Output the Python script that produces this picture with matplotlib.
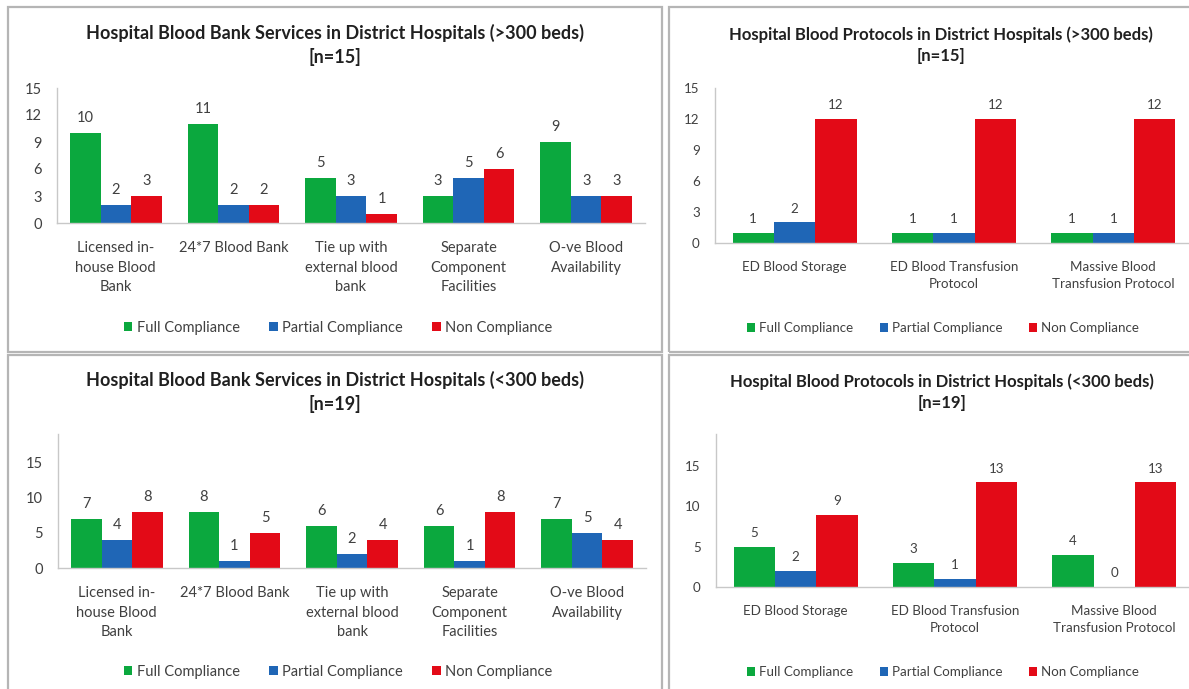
import matplotlib
matplotlib.use("Agg")
import matplotlib.pyplot as plt
from matplotlib.patches import Rectangle

plt.rcParams['font.family'] = ['Lato', 'DejaVu Sans']

# =============================================================================
    # Data
# =============================================================================
services = ["Licensed in-\nhouse Blood\nBank", "24*7 Blood Bank", "Tie up with\nexternal blood\nbank",
            "Separate\nComponent\nFacilities", "O-ve Blood\nAvailability"]
protocols = ["ED Blood Storage", "ED Blood Transfusion\nProtocol", "Massive Blood\nTransfusion Protocol"]

big_services_full = [10, 11, 5, 3, 9]
big_services_partial = [2, 2, 3, 5, 3]
big_services_non = [3, 2, 1, 6, 3]

big_protocols_full = [1, 1, 1]
big_protocols_partial = [2, 1, 1]
big_protocols_non = [12, 12, 12]

small_services_full = [7, 8, 6, 6, 7]
small_services_partial = [4, 1, 2, 1, 5]
small_services_non = [8, 5, 4, 8, 4]

small_protocols_full = [5, 3, 4]
small_protocols_partial = [2, 1, 0]
small_protocols_non = [9, 13, 13]

series_names = ["Full Compliance", "Partial Compliance", "Non Compliance"]
colors = ["#0BA83E", "#1F66B6", "#E30A17"]

W, H = 1189, 689
fig = plt.figure(figsize=(W / 100, H / 100), dpi=100)


def fx(px):
    return px / W


def fy(py):
    return 1 - py / H


# panel borders
for x0, y0, x1, y1 in [(8, 7, 662, 352), (669, 7, 1200, 352), (8, 355, 662, 700), (669, 355, 1200, 700)]:
    fig.add_artist(Rectangle((fx(x0), fy(y1)), fx(x1 - x0), (y1 - y0) / H, transform=fig.transFigure,
                             fill=False, ec="#b5b5b5", lw=1.6))


def panel(box, cats, full, partial, non, ymax, yticks, title, title_pos, legend_pos, fs, tfs):
    left, right, y0, ytop = box
    ax = fig.add_axes([fx(left), fy(y0), fx(right - left), (y0 - ytop) / H])
    w = 0.26
    xs = range(len(cats))
    for k, vals in enumerate([full, partial, non]):
        pos = [x + (k - 1) * w for x in xs]
        bars = ax.bar(pos, vals, w, color=colors[k], label=series_names[k], clip_on=False)
        for b, v in zip(bars, vals):
            ax.annotate(str(v), (b.get_x() + b.get_width() / 2, v), xytext=(0, 5.5),
                        textcoords="offset points", ha="center", va="bottom",
                        fontsize=fs, color="#404040", annotation_clip=False)
    ax.set_xlim(-0.5, len(cats) - 0.5)
    ax.set_ylim(0, ymax)
    ax.set_yticks(yticks)
    ax.set_xticks(list(xs))
    ax.set_xticklabels(cats, linespacing=1.5)
    ax.tick_params(axis="x", length=0, pad=13, labelsize=fs, labelcolor="#404040")
    ax.tick_params(axis="y", length=0, pad=11, labelsize=fs, labelcolor="#404040")
    for s in ["top", "right"]:
        ax.spines[s].set_visible(False)
    for s in ["left", "bottom"]:
        ax.spines[s].set_color("#c8c8c8")
        ax.spines[s].set_linewidth(1.0)
    fig.text(fx(title_pos[0]), fy(title_pos[1]), title, ha="center", va="center",
             fontsize=tfs, fontweight="bold", color="#202020", linespacing=1.4)
    ax.legend(loc="center", bbox_to_anchor=(fx(legend_pos[0]), fy(legend_pos[1])),
              bbox_transform=fig.transFigure, ncol=3, frameon=False, fontsize=fs,
              handlelength=0.6, handleheight=0.6, handletextpad=0.3, columnspacing=2.0,
              labelcolor="#404040")
    return ax


panel((57, 645, 223, 88), services, big_services_full, big_services_partial, big_services_non,
      15, [0, 3, 6, 9, 12, 15],
      "Hospital Blood Bank Services in District Hospitals (>300 beds)\n[n=15]",
      (335, 45), (338, 328), 10.5, 13.0)

panel((715, 1193, 243, 88), protocols, big_protocols_full, big_protocols_partial, big_protocols_non,
      15, [0, 3, 6, 9, 12, 15],
      "Hospital Blood Protocols in District Hospitals (>300 beds)\n[n=15]",
      (941, 45), (943, 328), 9.6, 12.0)

panel((58, 646, 568, 434), services, small_services_full, small_services_partial, small_services_non,
      19, [0, 5, 10, 15],
      "Hospital Blood Bank Services in District Hospitals (<300 beds)\n[n=19]",
      (335, 392), (338, 672), 10.5, 13.0)

panel((716, 1194, 587, 434), protocols, small_protocols_full, small_protocols_partial, small_protocols_non,
      19, [0, 5, 10, 15],
      "Hospital Blood Protocols in District Hospitals (<300 beds)\n[n=19]",
      (942, 392), (943, 672), 9.6, 12.0)

fig.savefig("out.png", dpi=100, facecolor="white")
